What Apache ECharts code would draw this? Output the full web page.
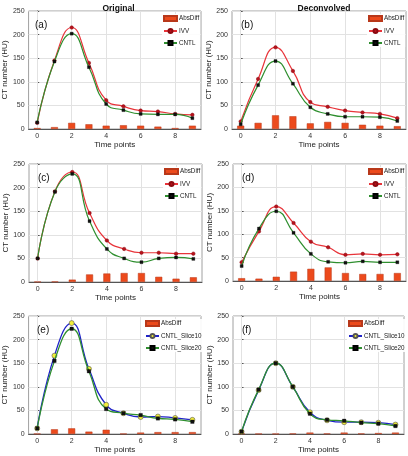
<!DOCTYPE html>
<html>
<head>
<meta charset="utf-8">
<script src="https://cdn.jsdelivr.net/npm/echarts@6/dist/echarts.min.js"></script>
<style>
html,body{margin:0;padding:0;background:#fff;}
#chart{width:408px;height:456px;}
</style>
</head>
<body>
<div id="chart"></div>
<script>
// ---- data ----
const timePoints = [0, 1, 2, 3, 4, 5, 6, 7, 8, 9];
const xTickValues = [0, 2, 4, 6, 8];
const yTickMax = 250;
const yTickStep = 50;

const columnTitles = ['Original', 'Deconvolved'];
const panelLabels = ['(a)', '(b)', '(c)', '(d)', '(e)', '(f)'];

// (a) Original
const a_AbsDiff = [2, 4, 13, 10, 7, 8, 7, 5, 2, 7];
const a_IVV     = [13, 145, 215, 140, 61, 48, 39, 37, 32, 30];
const a_CNTL    = [14, 143, 202, 131, 53, 40, 32, 31, 31, 23];
// (b) Deconvolved
const b_AbsDiff = [7, 13, 29, 27, 12, 15, 13, 9, 7, 6];
const b_IVV     = [16, 106, 173, 123, 57, 47, 39, 35, 32, 23];
const b_CNTL    = [10, 93, 144, 96, 46, 32, 26, 26, 25, 17];
// (c) Original
const c_AbsDiff = [0.5, 1, 5, 16, 18, 19, 19, 11, 7, 10];
const c_IVV     = [50, 192, 233, 146, 88, 70, 62, 62, 60, 60];
const c_CNTL    = [50, 191, 229, 129, 70, 50, 42, 50, 52, 49];
// (d) Deconvolved
const d_AbsDiff = [6, 5, 9, 20, 26, 29, 17, 15, 15, 17];
const d_IVV     = [40, 106, 159, 124, 84, 72, 56, 58, 56, 57];
const d_CNTL    = [32, 112, 149, 103, 58, 41, 39, 42, 40, 40];
// (e) Original
const e_AbsDiff   = [0.6, 10, 12, 5, 9, 0.6, 3, 4, 4, 4];
const e_Slice10   = [12, 166, 235, 138, 62, 44, 36, 37, 34, 30];
const e_Slice20   = [12, 155, 223, 133, 53, 44, 40, 33, 31, 26];
// (f) Deconvolved
const f_AbsDiff   = [1, 0.5, 0.5, 1, 3, 1, 3, 1, 2, 3];
const f_Slice10   = [5, 93, 150, 100, 46, 29, 25, 25, 24, 20];
const f_Slice20   = [5, 94, 150, 100, 43, 30, 28, 24, 22, 17];

// ---- layout ----
const FONT = 'Liberation Sans, Arial, sans-serif';
const grids = [
  {left: 26,  top: 11,  width: 175, height: 118},
  {left: 232, top: 11,  width: 174, height: 118},
  {left: 29,  top: 164, width: 173, height: 118},
  {left: 233, top: 164, width: 173, height: 117},
  {left: 28,  top: 316, width: 173, height: 118},
  {left: 233, top: 316, width: 171, height: 118}
];

const panels = [
  {bar: a_AbsDiff, l1: a_IVV, l2: a_CNTL, n1: 'IVV', n2: 'CNTL', type: 'ivv'},
  {bar: b_AbsDiff, l1: b_IVV, l2: b_CNTL, n1: 'IVV', n2: 'CNTL', type: 'ivv'},
  {bar: c_AbsDiff, l1: c_IVV, l2: c_CNTL, n1: 'IVV', n2: 'CNTL', type: 'ivv'},
  {bar: d_AbsDiff, l1: d_IVV, l2: d_CNTL, n1: 'IVV', n2: 'CNTL', type: 'ivv'},
  {bar: e_AbsDiff, l1: e_Slice10, l2: e_Slice20, n1: 'CNTL_Slice10', n2: 'CNTL_Slice20', type: 'slice'},
  {bar: f_AbsDiff, l1: f_Slice10, l2: f_Slice20, n1: 'CNTL_Slice10', n2: 'CNTL_Slice20', type: 'slice'}
];

const toPts = arr => timePoints.map((t, i) => [t, arr[i]]);

const grid = [], xAxis = [], yAxis = [], series = [], legend = [], title = [];

grids.forEach((g, i) => {
  grid.push(Object.assign({show: true, borderColor: '#a0a0a0', borderWidth: 1, backgroundColor: '#fff'}, g));
  xAxis.push({
    gridIndex: i, type: 'value', min: -0.5, max: 9.5,
    name: 'Time points', nameLocation: 'middle', nameGap: 12,
    nameTextStyle: {fontFamily: FONT, fontSize: 8, color: '#222'},
    axisLine: {show: true, lineStyle: {color: '#555', width: 1}},
    axisTick: {show: true, inside: true, length: 2, customValues: xTickValues, lineStyle: {color: '#555'}},
    axisLabel: {customValues: xTickValues, fontFamily: FONT, fontSize: 7, color: '#333', margin: 4},
    splitLine: {show: false}
  });
  yAxis.push({
    gridIndex: i, type: 'value', min: 0, max: yTickMax, interval: yTickStep,
    name: 'CT number (HU)', nameLocation: 'middle', nameGap: 15, nameRotate: 90,
    nameTextStyle: {fontFamily: FONT, fontSize: 8, color: '#222'},
    axisLine: {show: true, lineStyle: {color: '#555', width: 1}},
    axisTick: {show: true, inside: true, length: 2, lineStyle: {color: '#555'}},
    axisLabel: {fontFamily: FONT, fontSize: 7, color: '#333', margin: 4},
    splitLine: {show: true, lineStyle: {color: '#e2e2e2', width: 1}}
  });

  const p = panels[i];
  series.push({
    type: 'bar', name: 'AbsDiff', xAxisIndex: i, yAxisIndex: i,
    data: toPts(p.bar), barWidth: 7,
    itemStyle: {color: '#ec4a1c', borderColor: '#b8381a', borderWidth: 0.5},
    markLine: {
      silent: true, symbol: 'none', label: {show: false},
      lineStyle: {color: '#e2e2e2', width: 1, type: 'solid'},
      data: xTickValues.map(v => ({xAxis: v})),
      z: 1
    },
    z: 2
  });
  if (p.type === 'ivv') {
    series.push({
      type: 'line', name: p.n1, xAxisIndex: i, yAxisIndex: i, data: toPts(p.l1),
      smooth: 0.5, symbol: 'circle', symbolSize: 3.5, showAllSymbol: true,
      lineStyle: {color: '#e8343a', width: 1.2},
      itemStyle: {color: '#b8121c', borderColor: '#8a0a10', borderWidth: 0.5},
      z: 3
    });
    series.push({
      type: 'line', name: p.n2, xAxisIndex: i, yAxisIndex: i, data: toPts(p.l2),
      smooth: 0.5, symbol: 'rect', symbolSize: 3, showAllSymbol: true,
      lineStyle: {color: '#2f8f2f', width: 1.2},
      itemStyle: {color: '#111', borderColor: '#000', borderWidth: 0.3},
      z: 4
    });
  } else {
    series.push({
      type: 'line', name: p.n1, xAxisIndex: i, yAxisIndex: i, data: toPts(p.l1),
      smooth: 0.5, symbol: 'circle', symbolSize: 5, showAllSymbol: true,
      lineStyle: {color: '#1f22c8', width: 1.3},
      itemStyle: {color: '#f2ee3a', borderColor: '#555', borderWidth: 0.6},
      z: 3
    });
    series.push({
      type: 'line', name: p.n2, xAxisIndex: i, yAxisIndex: i, data: toPts(p.l2),
      smooth: 0.5, symbol: 'rect', symbolSize: 3.5, showAllSymbol: true,
      lineStyle: {color: '#2f8f2f', width: 1.3},
      itemStyle: {color: '#111', borderColor: '#000', borderWidth: 0.3},
      z: 4
    });
  }

  const legLeft = p.type === 'ivv' ? g.left + g.width - 39 : g.left + g.width - 57;
  legend.push({
    orient: 'vertical', left: legLeft, top: g.top + 3,
    itemWidth: 13, itemHeight: 5, itemGap: 6, padding: 1,
    backgroundColor: 'rgba(255,255,255,0.9)',
    textStyle: {fontFamily: FONT, fontSize: 6.3, color: '#222', padding: [0, 0, 0, -3]},
    selectedMode: false,
    data: [{name: 'AbsDiff', icon: 'rect'}, {name: p.n1}, {name: p.n2}]
  });

  title.push({
    text: panelLabels[i], left: g.left + 4, top: g.top + 4,
    textStyle: {fontFamily: FONT, fontSize: 10, fontWeight: 'normal', color: '#111'}
  });
});

title.push({
  text: columnTitles[0], left: grids[0].left + grids[0].width / 2, top: -1, textAlign: 'center',
  textStyle: {fontFamily: FONT, fontSize: 8.5, fontWeight: 'bold', color: '#111'}
});
title.push({
  text: columnTitles[1], left: grids[1].left + grids[1].width / 2, top: -1, textAlign: 'center',
  textStyle: {fontFamily: FONT, fontSize: 8.5, fontWeight: 'bold', color: '#111'}
});

const chart = echarts.init(document.getElementById('chart'), null, {renderer: 'canvas'});
chart.setOption({
  animation: false,
  backgroundColor: '#fff',
  title, grid, xAxis, yAxis, series, legend
});
</script>
</body>
</html>
